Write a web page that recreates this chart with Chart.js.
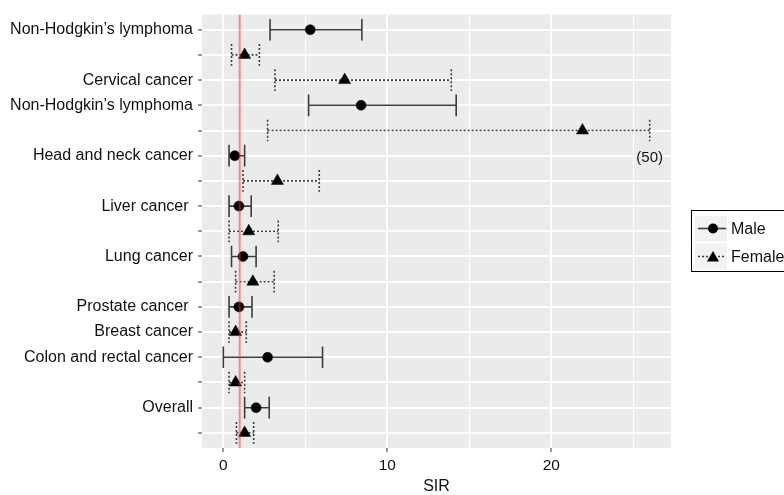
<!DOCTYPE html>
<html>
<head>
<meta charset="utf-8">
<script src="https://cdn.jsdelivr.net/npm/chart.js@4/dist/chart.umd.min.js"></script>
<style>
  html, body { margin: 0; padding: 0; background: #ffffff; }
  #wrap { width: 784px; height: 495px; }
</style>
</head>
<body>
<div id="wrap"><canvas id="c" width="784" height="495"></canvas></div>
<script>
// ---- Data ----
const rowLabels = [
  "Non-Hodgkin\u2019s lymphoma", "", "Cervical cancer", "Non-Hodgkin\u2019s lymphoma", "",
  "Head and neck cancer", "", "Liver cancer ", "", "Lung cancer", "",
  "Prostate cancer ", "Breast cancer", "Colon and rectal cancer", "", "Overall", ""
];
const rowSex = [
  "Male", "Female", "Female", "Male", "Female", "Male", "Female", "Male", "Female",
  "Male", "Female", "Male", "Female", "Male", "Female", "Male", "Female"
];
const sirValues = [5.3, 1.3, 7.4, 8.4, 21.9, 0.7, 3.3, 0.95, 1.55, 1.2, 1.8, 0.95, 0.75, 2.7, 0.75, 2.0, 1.3];
const ciLower   = [2.85, 0.5, 3.15, 5.2, 2.7, 0.35, 1.2, 0.35, 0.35, 0.5, 0.75, 0.35, 0.35, 0.0, 0.35, 1.3, 0.8];
const ciUpper   = [8.45, 2.2, 13.9, 14.2, 26.0, 1.3, 5.85, 1.7, 3.35, 2.0, 3.1, 1.75, 1.4, 6.05, 1.3, 2.8, 1.85];
const xTickLabels = [0, 10, 20];
const xGridValues = [0, 5, 10, 15, 20, 25];
const referenceSIR = 1;
const truncatedNote = { text: "(50)", row: 6, x: 26 };
const seriesNames = ["Male", "Female"];

// ---- Build datasets ----
const CAP = 0.43;
function pointsFor(sex) {
  const out = [];
  rowSex.forEach((s, i) => { if (s === sex) out.push({ x: sirValues[i], y: i + 1 }); });
  return out;
}
function barsFor(sex) {
  const out = [];
  rowSex.forEach((s, i) => {
    if (s !== sex) return;
    const r = i + 1;
    out.push({ x: ciLower[i], y: r }, { x: ciUpper[i], y: r }, { x: ciUpper[i], y: null });
    out.push({ x: ciLower[i], y: r - CAP }, { x: ciLower[i], y: r + CAP }, { x: ciLower[i], y: null });
    out.push({ x: ciUpper[i], y: r - CAP }, { x: ciUpper[i], y: r + CAP }, { x: ciUpper[i], y: null });
  });
  return out;
}

const FONT = "'Liberation Sans', Arial, Helvetica, sans-serif";
const TEXT = '#111111';
const BAR = '#3d3d3d';

const panelBg = {
  id: 'panelBg',
  beforeDraw(chart) {
    const a = chart.chartArea, c = chart.ctx;
    c.save();
    c.fillStyle = '#EBEBEB';
    c.fillRect(a.left, a.top, a.right - a.left, a.bottom - a.top);
    c.restore();
  }
};

const annot = {
  id: 'annot',
  afterDatasetsDraw(chart) {
    const c = chart.ctx;
    const xs = chart.scales.x, ys = chart.scales.y;
    c.save();
    c.font = '15px ' + FONT;
    c.fillStyle = TEXT;
    c.textAlign = 'center';
    c.textBaseline = 'middle';
    c.fillText(truncatedNote.text, xs.getPixelForValue(truncatedNote.x), ys.getPixelForValue(truncatedNote.row) + 2);
    c.restore();
  }
};

const ggLegend = {
  id: 'ggLegend',
  afterDraw(chart) {
    const c = chart.ctx;
    c.save();
    // frame
    c.strokeStyle = '#000';
    c.lineWidth = 1;
    c.strokeRect(691.5, 210.5, 120, 61);
    const keys = [{ y: 228.5, name: seriesNames[0] }, { y: 256.5, name: seriesNames[1] }];
    keys.forEach((k, i) => {
      c.fillStyle = '#F2F2F2';
      c.fillRect(695, k.y - 13, 32, 26);
      // line
      c.strokeStyle = BAR;
      c.lineWidth = 1.6;
      c.setLineDash(i === 0 ? [] : [2, 2]);
      c.beginPath();
      c.moveTo(698, k.y); c.lineTo(726, k.y);
      c.stroke();
      c.setLineDash([]);
      // marker
      c.fillStyle = '#000';
      c.beginPath();
      if (i === 0) {
        c.arc(713, k.y, 5, 0, Math.PI * 2);
      } else {
        const r = 7, cx = 713, cy = k.y + 1.5;
        c.moveTo(cx, cy - r);
        c.lineTo(cx + r * Math.sin(2 * Math.PI / 3), cy + r / 2);
        c.lineTo(cx - r * Math.sin(2 * Math.PI / 3), cy + r / 2);
        c.closePath();
      }
      c.fill();
      // text
      c.fillStyle = TEXT;
      c.font = '16px ' + FONT;
      c.textAlign = 'left';
      c.textBaseline = 'middle';
      c.fillText(k.name, 731, k.y + 1);
    });
    c.restore();
  }
};

new Chart(document.getElementById('c'), {
  type: 'scatter',
  data: {
    datasets: [
      {
        label: 'ref',
        data: [{ x: referenceSIR, y: 0.4 }, { x: referenceSIR, y: 17.6 }],
        showLine: true,
        borderColor: 'rgba(255, 40, 40, 0.5)',
        borderWidth: 2,
        pointRadius: 0,
        order: 0
      },
      {
        label: seriesNames[0],
        data: pointsFor('Male'),
        pointStyle: 'circle',
        pointRadius: 5,
        backgroundColor: '#000',
        borderColor: '#000',
        borderWidth: 0.5,
        order: 1
      },
      {
        label: seriesNames[1],
        data: pointsFor('Female'),
        pointStyle: 'triangle',
        pointRadius: 7,
        backgroundColor: '#000',
        borderColor: '#000',
        borderWidth: 0.5,
        order: 1
      },
      {
        label: 'maleCI',
        data: barsFor('Male'),
        showLine: true,
        spanGaps: false,
        borderColor: BAR,
        borderWidth: 1.6,
        pointRadius: 0,
        order: 2
      },
      {
        label: 'femaleCI',
        data: barsFor('Female'),
        showLine: true,
        spanGaps: false,
        borderColor: BAR,
        borderWidth: 1.6,
        borderDash: [2, 2],
        pointRadius: 0,
        order: 2
      }
    ]
  },
  options: {
    responsive: false,
    animation: false,
    devicePixelRatio: 1,
    layout: { padding: { left: 0, top: 14, right: 113, bottom: 0 } },
    plugins: { legend: { display: false }, tooltip: { enabled: false } },
    scales: {
      x: {
        type: 'linear',
        min: -1.3,
        max: 27.3,
        afterBuildTicks: s => { s.ticks = xGridValues.map(v => ({ value: v })); },
        afterFit: s => { s.height = 47; },
        border: { display: false },
        grid: {
          color: '#FFFFFF',
          lineWidth: ctx => (ctx.tick && xTickLabels.includes(ctx.tick.value)) ? 2 : 1,
          tickColor: ctx => (ctx.tick && xTickLabels.includes(ctx.tick.value)) ? '#333333' : 'rgba(0,0,0,0)',
          tickWidth: 1,
          tickLength: 4
        },
        ticks: {
          autoSkip: false,
          maxRotation: 0,
          padding: 4,
          color: TEXT,
          font: { family: FONT, size: 15.5 },
          callback: v => xTickLabels.includes(v) ? String(v) : ''
        },
        title: {
          display: true,
          text: 'SIR',
          color: TEXT,
          font: { family: FONT, size: 16, lineHeight: 1 },
          padding: { top: 0, bottom: 0 }
        }
      },
      y: {
        type: 'linear',
        reverse: true,
        min: 0.4,
        max: 17.6,
        afterBuildTicks: s => { s.ticks = rowLabels.map((_, i) => ({ value: i + 1 })); },
        afterFit: s => { s.width = 202; },
        border: { display: false },
        grid: {
          color: '#FFFFFF',
          lineWidth: 2,
          tickColor: '#333333',
          tickWidth: 1,
          tickLength: 4
        },
        ticks: {
          autoSkip: false,
          padding: 5,
          color: TEXT,
          font: { family: FONT, size: 16 },
          callback: v => rowLabels[Math.round(v) - 1]
        }
      }
    }
  },
  plugins: [panelBg, annot, ggLegend]
});
</script>
</body>
</html>
